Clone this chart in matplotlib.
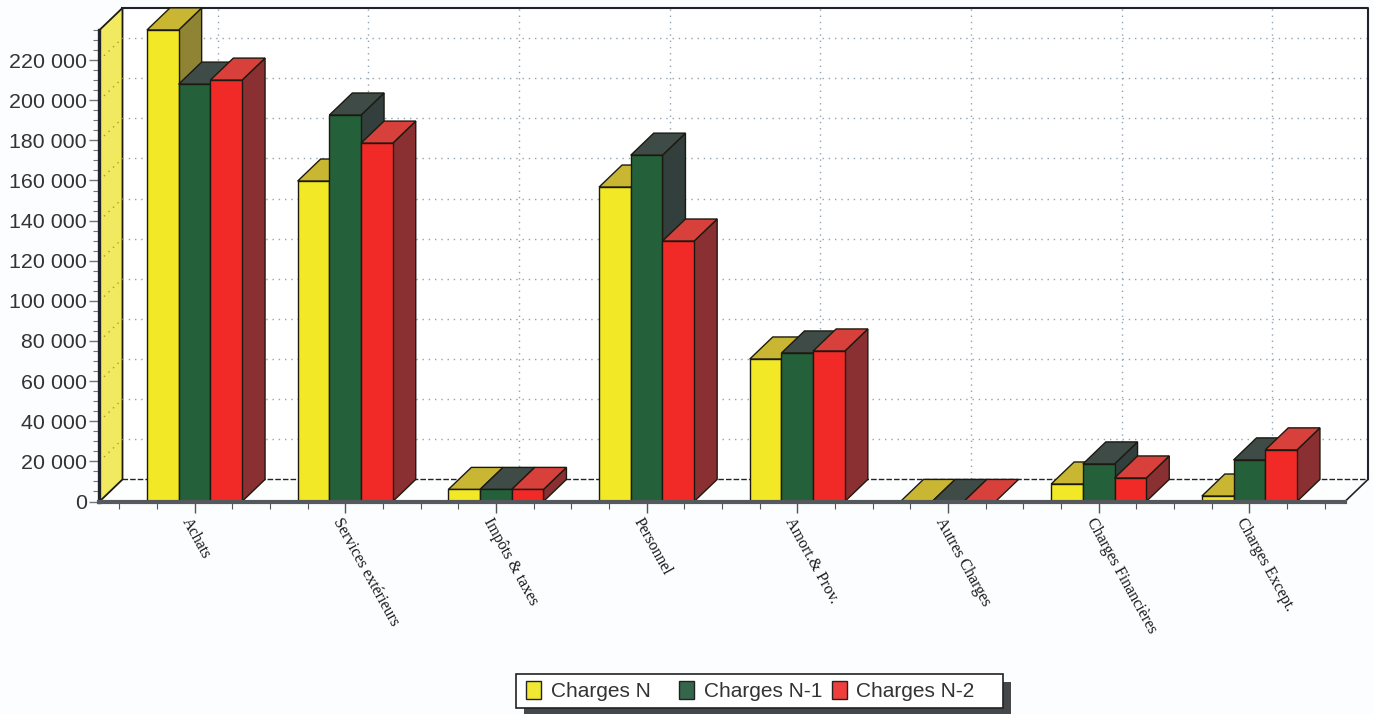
#!/bin/env python3
import matplotlib
matplotlib.use('Agg')
import matplotlib.pyplot as plt
import matplotlib.patheffects as pe
from matplotlib.patches import Polygon, Patch, Rectangle
from matplotlib.ticker import FuncFormatter, MultipleLocator
from matplotlib.transforms import ScaledTranslation

categories = ['Achats', 'Services extérieurs', 'Impôts & taxes', 'Personnel',
              'Amort.& Prov.', 'Autres Charges', 'Charges Financières', 'Charges Except.']
charges_n = [235000, 159700, 6000, 156700, 71000, 0, 8700, 2700]
charges_n1 = [208000, 192600, 6000, 172600, 74000, 0, 18700, 20700]
charges_n2 = [210000, 178600, 6000, 129800, 75000, 0, 11700, 25700]
series_names = ['Charges N', 'Charges N-1', 'Charges N-2']

# front, top, side
colors = [('#f3e826', '#c9b733', '#8f8433'),
          ('#24613a', '#3f4b47', '#333f3c'),
          ('#f22a27', '#d8403b', '#8a3032')]
legend_colors = ['#f0e832', '#35664c', '#ee3f3c']

W, H = 1373, 714
BG = '#fbfdfe'
EDGE = '#1c1a10'
PITCH = 150.7  # pixels per category

fig = plt.figure(figsize=(W / 100, H / 100), dpi=100, facecolor=BG)
ax = fig.add_axes([99.5 / W, (H - 501.5) / H, 1245.5 / W, 471.5 / H])
ax.set_xlim((99.5 - 194.5) / PITCH, (1345 - 194.5) / PITCH)
ax.set_ylim(0, 235000)
ax.patch.set_visible(False)

# depth of the 3d box, in data units
DX = 23 / PITCH
DY = 11000
x0, x1 = ax.get_xlim()
y0, y1 = ax.get_ylim()
BAR_W = 31.7 / PITCH


def poly(pts, fc, z=2, ec=EDGE, lw=1.0):
    ax.add_patch(Polygon(pts, closed=True, facecolor=fc, edgecolor=ec, linewidth=lw,
                         joinstyle='miter', clip_on=False, zorder=z))


# walls
poly([(x0 + DX, y0 + DY), (x1 + DX, y0 + DY), (x1 + DX, y1 + DY), (x0 + DX, y1 + DY)], 'white', z=1, ec='none')
poly([(x0, y0), (x0 + DX, y0 + DY), (x0 + DX, y1 + DY), (x0, y1)], '#f1ea60', z=1.2, lw=1.3)
poly([(x0, y0), (x1, y0), (x1 + DX, y0 + DY), (x0 + DX, y0 + DY)], '#fdfefe', z=1.1, ec='none')

ax.plot([x0 + DX, x1 + DX, x1 + DX], [y1 + DY, y1 + DY, y0 + DY], color='#20242a', lw=1.5, clip_on=False, zorder=1.3)
ax.plot([x0 + DX, x1 + DX], [y0 + DY, y0 + DY], color='#20242a', lw=1.0, ls=(0, (4, 1.5)), clip_on=False, zorder=1.3)
ax.plot([x1, x1 + DX], [y0, y0 + DY], color='#20242a', lw=1.2, clip_on=False, zorder=1.3)

# grid on back wall and left wall
grid_vals = range(20000, 240000, 20000)
for v in grid_vals:
    ax.plot([x0 + DX, x1 + DX], [v + DY, v + DY], color='#93a3b2', lw=1.0, ls=(0, (1, 3.5)), clip_on=False, zorder=1.25)
    ax.plot([x0, x0 + DX], [v, v + DY], color='#a89c30', lw=1.0, ls=(0, (1, 3.5)), clip_on=False, zorder=1.25)
for i in range(len(categories)):
    ax.plot([i + DX, i + DX], [y0 + DY, y1 + DY], color='#93a3b2', lw=1.0, ls=(0, (1, 3.5)), clip_on=False, zorder=1.25)

# bars, left to right so each one hides the side of the previous
all_series = [charges_n, charges_n1, charges_n2]
z = 3.0
for i in range(len(categories)):
    for s, vals in enumerate(all_series):
        v = vals[i]
        front, top, side = colors[s]
        l = i + (s - 1.5) * BAR_W
        r = l + BAR_W
        if v > 0:
            poly([(r, 0), (r + DX, DY), (r + DX, v + DY), (r, v)], side, z)
        poly([(l, v), (r, v), (r + DX, v + DY), (l + DX, v + DY)], top, z + 0.01)
        if v > 0:
            poly([(l, 0), (r, 0), (r, v), (l, v)], front, z + 0.02)
        z += 0.1

# axes
for name in ['top', 'right']:
    ax.spines[name].set_visible(False)
ax.spines['left'].set_linewidth(2.4)
ax.spines['left'].set_color('#20242a')
ax.spines['bottom'].set_linewidth(3.0)
ax.spines['bottom'].set_color('#55585c')
ax.spines['bottom'].set_zorder(20)

ax.yaxis.set_major_locator(MultipleLocator(20000))
ax.yaxis.set_minor_locator(MultipleLocator(5000))
ax.yaxis.set_major_formatter(FuncFormatter(lambda v, p: f'{int(v):,}'.replace(',', ' ')))
ax.tick_params(axis='y', which='major', length=7, width=1.0, color='#777777', pad=2,
               labelsize=15.4, labelcolor='#333333')
ax.tick_params(axis='y', which='minor', length=4, width=0.8, color='#777777')
for lab in ax.get_yticklabels():
    lab.set_fontfamily('Liberation Sans')

ax.set_xticks(range(len(categories)))
ax.set_xticks([i * 0.25 - 0.5 for i in range(33)], minor=True)
ax.tick_params(axis='x', which='major', length=8, width=1.0, color='#555555', pad=9)
ax.tick_params(axis='x', which='minor', length=5, width=0.8, color='#555555')
ax.set_xticklabels(categories, rotation=-61, ha='left', va='center', rotation_mode='anchor',
                   fontfamily='Liberation Serif', fontsize=11.5, color='#1a1a1a')
shift = ScaledTranslation(-6.5 / 72, 4 / 72, fig.dpi_scale_trans)
for lab in ax.get_xticklabels():
    lab.set_transform(lab.get_transform() + shift)

# legend: frame drawn apart, the box is wider on the right than the packed columns
frame = Rectangle((516 / W, (H - 708) / H), 487 / W, 34 / H, transform=fig.transFigure,
                  facecolor='white', edgecolor='#222222', linewidth=1.2, zorder=5)
frame.set_path_effects([pe.SimplePatchShadow(offset=(5.5, -5.5), shadow_rgbFace='#45484a', alpha=1), pe.Normal()])
fig.add_artist(frame)

handles = [Patch(facecolor=legend_colors[i], edgecolor='#222222', linewidth=1.0, label=series_names[i]) for i in range(3)]
leg = fig.legend(handles=handles, ncol=3, loc='center left', bbox_to_anchor=(526 / W, (H - 691) / H),
                 frameon=False, prop={'family': 'Liberation Sans', 'size': 15}, labelcolor='#333333',
                 handlelength=0.72, handleheight=0.95, handletextpad=0.48, columnspacing=0.45,
                 borderpad=0, borderaxespad=0)
leg.set_zorder(6)
leg._legend_handle_box.mode = 'equal'

fig.savefig('out.png', dpi=100, facecolor=BG)
